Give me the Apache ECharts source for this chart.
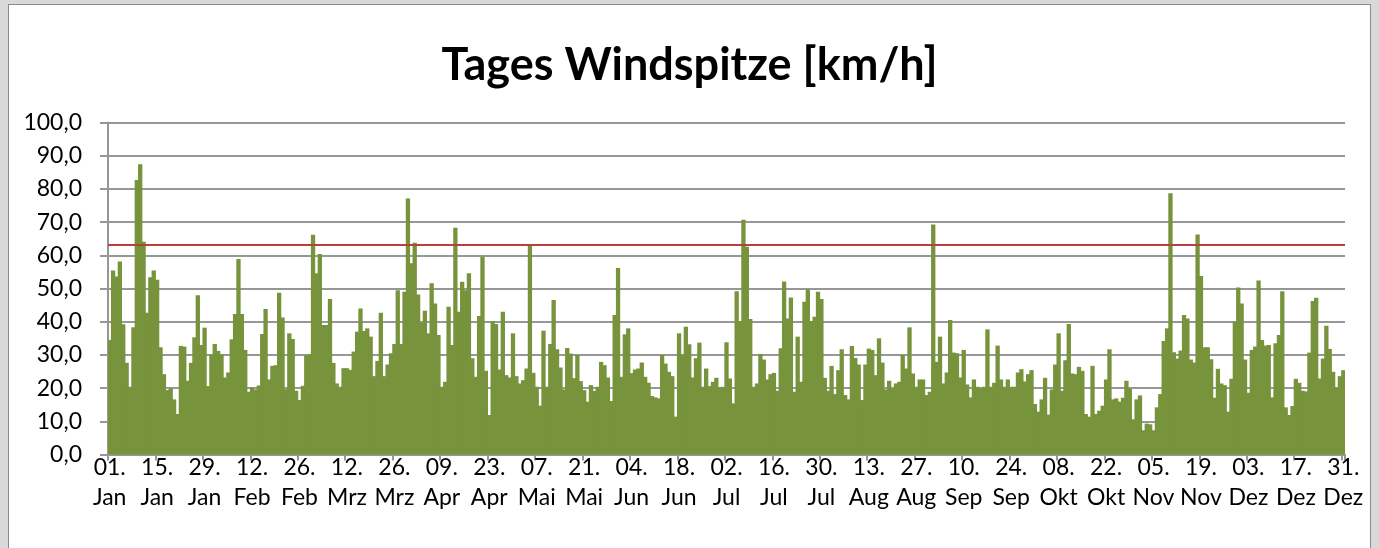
<!DOCTYPE html>
<html lang="de">
<head>
	<meta charset="UTF-8">
	<title>Tages Windspitze</title>
	<script src="https://cdn.jsdelivr.net/npm/echarts@6/dist/echarts.min.js"></script>
	<style>
		body { margin: 0; background: #d9d9d9; }
		#panel { position: absolute; left: 8px; top: 4px; width: 1361px; height: 580px; background: #fff; border: 1px solid #8a8a8a; }
		#main { position: absolute; left: 0; top: 0; width: 1379px; height: 548px; }
	</style>
</head>
<body>
	<div id="panel"></div>
	<div id="main"></div>

	<script>
		// Tageswerte je Monat (km/h)
		var jan = [34.5, 55.4, 53.6, 58.1, 39.2, 27.6, 20.4, 38.3, 82.7, 87.4, 64.1, 42.7, 53.4, 55.4, 52.6, 32.3,
			24.2, 19.4, 19.9, 16.6, 12.2, 32.7, 32.5, 22.2, 27.6, 35.3, 48.0, 33.0, 38.2, 20.6, 30.2];
		var feb = [33.3, 31.2, 30.2, 23.2, 24.7, 34.7, 42.3, 58.9, 42.3, 31.5, 18.9, 20.2, 19.6, 20.8, 36.3, 43.8,
			22.6, 26.7, 26.9, 48.7, 41.3, 19.7, 36.5, 34.8, 19.2, 16.4, 20.7, 29.9];
		var mrz = [30.2, 66.2, 54.6, 60.4, 39.0, 39.0, 46.8, 27.6, 21.4, 20.4, 26.0, 26.0, 25.5, 31.0, 37.0, 44.0,
			37.2, 38.0, 35.5, 23.6, 28.2, 42.7, 23.6, 27.1, 30.5, 33.3, 49.5, 33.3, 49.0, 77.1, 57.6];
		var apr = [63.8, 48.2, 39.7, 43.3, 36.5, 51.6, 45.5, 36.0, 20.4, 21.9, 44.5, 33.0, 68.3, 43.0, 52.0, 49.5,
			54.6, 29.0, 23.4, 41.7, 59.6, 25.2, 11.9, 40.2, 39.3, 25.6, 43.0, 23.9, 23.2, 36.5];
		var mai = [23.6, 21.4, 22.4, 25.9, 63.1, 24.6, 20.4, 14.7, 37.3, 20.4, 33.3, 46.5, 31.7, 26.2, 19.6, 32.1,
			30.4, 23.0, 30.0, 22.1, 19.4, 15.9, 20.9, 19.2, 20.4, 27.9, 26.9, 23.2, 16.1, 42.0, 56.2];
		var jun = [23.4, 36.2, 38.0, 24.5, 25.6, 25.9, 27.7, 23.4, 21.6, 17.6, 17.2, 16.9, 30.0, 27.4, 24.9, 23.6,
			11.4, 36.5, 30.0, 38.5, 33.2, 23.2, 29.0, 33.7, 20.4, 25.9, 20.6, 21.9, 23.1, 20.2];
		var jul = [20.4, 33.8, 22.9, 15.4, 49.2, 40.2, 70.7, 62.6, 40.8, 20.4, 21.4, 30.3, 28.6, 22.6, 24.2, 24.6,
			19.2, 32.0, 52.1, 41.0, 47.3, 18.9, 35.5, 21.9, 46.0, 49.7, 40.2, 41.5, 49.0, 46.8, 23.1];
		var aug = [19.2, 26.7, 18.2, 25.4, 31.7, 17.9, 16.6, 32.7, 29.1, 27.1, 16.4, 27.1, 31.9, 31.5, 23.9, 35.0,
			27.7, 19.6, 22.2, 19.9, 21.4, 21.9, 30.0, 25.9, 38.3, 24.4, 20.4, 22.6, 22.6, 17.9, 18.9];
		var sep = [69.3, 27.9, 35.5, 21.4, 24.7, 40.5, 30.7, 30.5, 23.2, 31.5, 21.1, 17.2, 22.6, 20.4, 19.9, 20.4,
			37.7, 20.4, 21.6, 32.8, 22.6, 20.4, 22.6, 20.4, 20.4, 24.7, 25.7, 22.0, 24.2, 25.4];
		var okt = [15.2, 12.9, 16.6, 23.1, 12.0, 19.6, 27.1, 36.5, 19.2, 28.4, 39.3, 24.4, 24.2, 26.4, 25.2, 12.2,
			11.4, 26.7, 12.2, 13.2, 14.7, 22.6, 31.7, 16.6, 16.9, 15.9, 17.1, 22.2, 19.9, 10.6, 16.6];
		var nov = [17.8, 7.3, 9.3, 9.1, 7.3, 14.2, 18.2, 34.2, 38.0, 78.7, 30.8, 28.9, 31.3, 42.0, 41.0, 28.6,
			27.7, 66.3, 53.8, 32.3, 32.3, 28.7, 17.1, 25.8, 21.4, 20.9, 12.9, 22.8, 40.0, 50.3];
		var dez = [45.5, 28.6, 18.6, 31.5, 32.5, 52.4, 34.5, 32.8, 33.0, 17.2, 33.5, 36.0, 49.2, 14.2, 11.9, 14.6,
			22.8, 21.6, 19.2, 19.0, 30.7, 46.2, 47.2, 22.9, 28.9, 38.8, 31.8, 24.9, 20.2, 23.6, 25.4];

		var monate = ['Jan', 'Feb', 'Mrz', 'Apr', 'Mai', 'Jun', 'Jul', 'Aug', 'Sep', 'Okt', 'Nov', 'Dez'];
		var monatsWerte = [jan, feb, mrz, apr, mai, jun, jul, aug, sep, okt, nov, dez];
		var grenzwert = 63.3; // rote Linie

		var tage = [], werte = [];
		monatsWerte.forEach(function (arr, m) {
			arr.forEach(function (v, d) {
				tage.push((d < 9 ? '0' : '') + (d + 1) + '.\n' + monate[m]);
				werte.push(v);
			});
		});

		var font = 'Lato, "Open Sans", sans-serif';
		var gridColor = '#979797';
		var gruen = '#77933C';

		var chart = echarts.init(document.getElementById('main'), null, { renderer: 'canvas' });
		var option = {
			animation: false,
			backgroundColor: 'transparent',
			title: {
				text: 'Tages Windspitze [km/h]',
				left: 'center',
				top: 38,
				textStyle: { fontFamily: font, fontWeight: 'bold', fontSize: 45, color: '#000' }
			},
			grid: { left: 108, right: 34, top: 122.5, bottom: 93.5 },
			xAxis: {
				type: 'category',
				data: tage,
				boundaryGap: true,
				axisLine: { lineStyle: { color: gridColor, width: 2 } },
				axisTick: { show: true, interval: 13, length: 6, lineStyle: { color: gridColor, width: 2 } },
				axisLabel: {
					interval: 13,
					fontFamily: font,
					fontSize: 23,
					color: '#000',
					lineHeight: 30,
					margin: -2
				}
			},
			yAxis: {
				type: 'value',
				min: 0,
				max: 100,
				interval: 10,
				axisLine: { show: true, lineStyle: { color: gridColor, width: 2 } },
				axisTick: { show: true, length: 8, lineStyle: { color: gridColor, width: 2 } },
				splitLine: { lineStyle: { color: gridColor, width: 2 } },
				axisLabel: {
					fontFamily: font,
					fontSize: 23,
					color: '#000',
					margin: 26,
					formatter: function (v) { return v.toFixed(1).replace('.', ','); }
				}
			},
			series: [
				{
					name: 'Windspitze',
					type: 'bar',
					data: werte,
					barWidth: 4.3, // etwas breiter als ein Tag, damit keine Fugen bleiben
					itemStyle: { color: gruen },
					markLine: {
						silent: true,
						symbol: 'none',
						label: { show: false },
						lineStyle: { color: '#B5403D', width: 2, type: 'solid' },
						data: [{ yAxis: grenzwert }]
					}
				}
			]
		};
		chart.setOption(option);
	</script>
</body>
</html>
